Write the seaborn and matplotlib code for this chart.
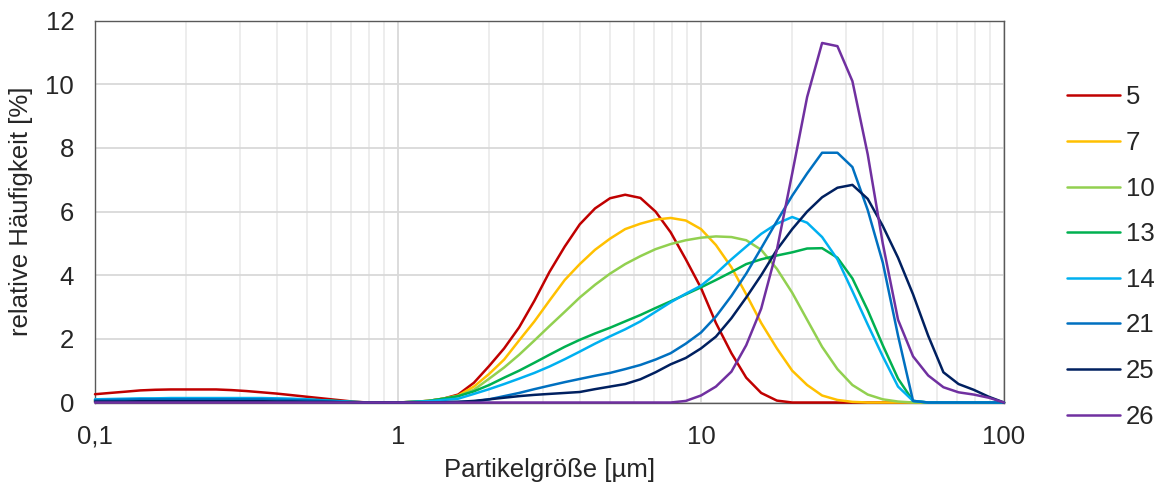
import numpy as np
import pandas as pd
import matplotlib
matplotlib.use("Agg")
import matplotlib.pyplot as plt
from matplotlib.ticker import LogLocator, FixedLocator, FixedFormatter, NullFormatter
import seaborn as sns

# particle size classes [um]
sizes = [0.1, 0.112, 0.126, 0.141, 0.158, 0.178, 0.2, 0.224, 0.251, 0.282,
         0.316, 0.355, 0.398, 0.447, 0.501, 0.562, 0.631, 0.708, 0.794, 0.891,
         1.0, 1.12, 1.26, 1.41, 1.58, 1.78, 2.0, 2.24, 2.51, 2.82,
         3.16, 3.55, 3.98, 4.47, 5.01, 5.62, 6.31, 7.08, 7.94, 8.91,
         10.0, 11.2, 12.6, 14.1, 15.8, 17.8, 20.0, 22.4, 25.1, 28.2,
         31.6, 35.5, 39.8, 44.7, 50.1, 56.2, 63.1, 70.8, 79.4, 89.1, 100.0]

labels = ["5", "7", "10", "13", "14", "21", "25", "26"]
colors = ["#C00000", "#FFC000", "#92D050", "#00B050", "#00B0F0", "#0070C0", "#002060", "#7030A0"]

probe_5 = [0.26, 0.30, 0.34, 0.38, 0.40, 0.41, 0.41, 0.41, 0.41, 0.39,
           0.36, 0.32, 0.28, 0.23, 0.18, 0.13, 0.08, 0.03, 0, 0,
           0, 0.02, 0.05, 0.12, 0.25, 0.62, 1.15, 1.7, 2.36, 3.2,
           4.1, 4.9, 5.6, 6.1, 6.42, 6.53, 6.43, 6.0, 5.35, 4.5,
           3.6, 2.5, 1.55, 0.78, 0.3, 0.06, 0, 0, 0, 0,
           0, 0, 0, 0, 0, 0, 0, 0, 0, 0, 0]
probe_7 = [0.04, 0.05, 0.05, 0.06, 0.06, 0.06, 0.06, 0.06, 0.06, 0.06,
           0.06, 0.06, 0.05, 0.05, 0.04, 0.03, 0.02, 0, 0, 0,
           0, 0.02, 0.05, 0.12, 0.22, 0.5, 0.9, 1.35, 1.95, 2.55,
           3.2, 3.85, 4.35, 4.8, 5.15, 5.45, 5.62, 5.75, 5.8, 5.72,
           5.45, 4.95, 4.25, 3.4, 2.5, 1.7, 1.0, 0.55, 0.22, 0.08,
           0.02, 0, 0, 0, 0, 0, 0, 0, 0, 0, 0]
probe_10 = [0.06, 0.07, 0.07, 0.08, 0.08, 0.08, 0.08, 0.08, 0.08, 0.08,
            0.08, 0.08, 0.07, 0.06, 0.05, 0.04, 0.02, 0, 0, 0,
            0, 0.02, 0.05, 0.12, 0.2, 0.4, 0.75, 1.1, 1.5, 1.95,
            2.4, 2.85, 3.3, 3.7, 4.05, 4.35, 4.6, 4.82, 4.98, 5.1,
            5.18, 5.22, 5.2, 5.1, 4.8, 4.2, 3.45, 2.6, 1.75, 1.05,
            0.55, 0.25, 0.1, 0.03, 0, 0, 0, 0, 0, 0, 0]
probe_13 = [0.08, 0.09, 0.1, 0.1, 0.11, 0.11, 0.11, 0.11, 0.11, 0.11,
            0.11, 0.11, 0.11, 0.1, 0.09, 0.07, 0.05, 0.02, 0, 0,
            0, 0.02, 0.05, 0.12, 0.2, 0.35, 0.55, 0.78, 1.0, 1.25,
            1.5, 1.75, 1.97, 2.17, 2.35, 2.55, 2.75, 2.97, 3.18, 3.4,
            3.62, 3.85, 4.1, 4.35, 4.5, 4.62, 4.72, 4.84, 4.85, 4.55,
            3.9, 2.9, 1.8, 0.75, 0.05, 0, 0, 0, 0, 0, 0]
probe_14 = [0.1, 0.11, 0.12, 0.13, 0.13, 0.14, 0.14, 0.14, 0.14, 0.14,
            0.14, 0.14, 0.13, 0.12, 0.1, 0.07, 0.04, 0.02, 0, 0,
            0, 0.02, 0.04, 0.08, 0.12, 0.27, 0.42, 0.58, 0.75, 0.93,
            1.13, 1.36, 1.6, 1.85, 2.08, 2.3, 2.55, 2.85, 3.15, 3.42,
            3.67, 4.05, 4.5, 4.9, 5.3, 5.62, 5.83, 5.65, 5.2, 4.5,
            3.5, 2.45, 1.45, 0.5, 0.05, 0, 0, 0, 0, 0, 0]
probe_21 = [0.07, 0.08, 0.09, 0.1, 0.1, 0.1, 0.1, 0.1, 0.1, 0.1,
            0.1, 0.1, 0.09, 0.08, 0.07, 0.05, 0.03, 0.01, 0, 0,
            0, 0, 0, 0.01, 0.02, 0.03, 0.1, 0.2, 0.3, 0.42,
            0.53, 0.64, 0.74, 0.84, 0.93, 1.05, 1.18, 1.35, 1.55, 1.85,
            2.2, 2.7, 3.35, 4.05, 4.85, 5.7, 6.5, 7.2, 7.85, 7.85,
            7.4, 6.05, 4.4, 2.1, 0.05, 0, 0, 0, 0, 0, 0]
probe_25 = [0.03, 0.03, 0.03, 0.04, 0.04, 0.04, 0.04, 0.04, 0.04, 0.04,
            0.04, 0.04, 0.03, 0.03, 0.02, 0.02, 0.01, 0, 0, 0,
            0, 0, 0, 0.01, 0.02, 0.05, 0.1, 0.15, 0.2, 0.24,
            0.27, 0.3, 0.33, 0.42, 0.5, 0.58, 0.73, 0.95, 1.2, 1.4,
            1.7, 2.07, 2.65, 3.3, 4.0, 4.8, 5.45, 6.0, 6.45, 6.75,
            6.84, 6.4, 5.55, 4.55, 3.4, 2.1, 0.95, 0.58, 0.4, 0.18, 0.0]
probe_26 = [0, 0, 0, 0, 0, 0, 0, 0, 0, 0,
            0, 0, 0, 0, 0, 0, 0, 0, 0, 0,
            0, 0, 0, 0, 0, 0, 0, 0, 0, 0,
            0, 0, 0, 0, 0, 0, 0, 0, 0, 0.05,
            0.22, 0.5, 0.97, 1.8, 2.95, 4.8, 7.2, 9.6, 11.3, 11.2,
            10.1, 7.8, 5.0, 2.6, 1.45, 0.85, 0.48, 0.32, 0.25, 0.15, 0.0]

series = [probe_5, probe_7, probe_10, probe_13, probe_14, probe_21, probe_25, probe_26]

df = pd.concat([pd.DataFrame({"size": sizes, "freq": vals, "probe": lab})
                for lab, vals in zip(labels, series)], ignore_index=True)

sns.set_style("white")
plt.rcParams["font.family"] = ["Liberation Sans", "DejaVu Sans"]
fs = 18.5
txt = "#262626"

fig = plt.figure(figsize=(11.63, 4.9), dpi=100)
ax = fig.add_axes([95 / 1163, 1 - 402.5 / 490, 909 / 1163, 381.8 / 490])

sns.lineplot(data=df, x="size", y="freq", hue="probe", hue_order=labels,
             palette=colors, linewidth=1.8, ax=ax, legend=True, zorder=3, clip_on=False)

ax.set_xscale("log")
ax.set_xlim(0.1, 100)
ax.set_ylim(0, 12)
ax.xaxis.set_major_locator(FixedLocator([0.1, 1, 10, 100]))
ax.xaxis.set_major_formatter(FixedFormatter(["0,1", "1", "10", "100"]))
ax.xaxis.set_minor_locator(LogLocator(base=10, subs=np.arange(2, 10)))
ax.xaxis.set_minor_formatter(NullFormatter())
ax.set_yticks(np.arange(0, 13, 2))

ax.grid(True, which="major", color="#d9d9d9", linewidth=1.3)
ax.grid(True, which="minor", axis="x", color="#ececec", linewidth=1.3)
ax.set_axisbelow(True)

for s in ax.spines.values():
    s.set_color("#595959")
    s.set_linewidth(1.0)

ax.tick_params(which="major", direction="out", length=6, width=1, color="#595959",
               labelsize=fs, labelcolor=txt, pad=9)
ax.tick_params(axis="x", which="major", pad=10)
ax.tick_params(which="minor", length=0)

ax.set_xlabel("Partikelgröße [µm]", fontsize=fs, color=txt)
ax.set_ylabel("relative Häufigkeit [%]", fontsize=fs, color=txt)
ax.xaxis.set_label_coords(0.5, -0.146)
ax.yaxis.set_label_coords(-0.068, 0.5)

handles, labs = ax.get_legend_handles_labels()
ax.get_legend().remove()
fig.legend(handles, labs, loc="center left", bbox_to_anchor=(1067 / 1163, 1 - 257 / 490),
           frameon=False, fontsize=fs, handlelength=2.06, handletextpad=0.23,
           labelspacing=0.84, borderpad=0, borderaxespad=0)

fig.savefig("out.png", dpi=100)
